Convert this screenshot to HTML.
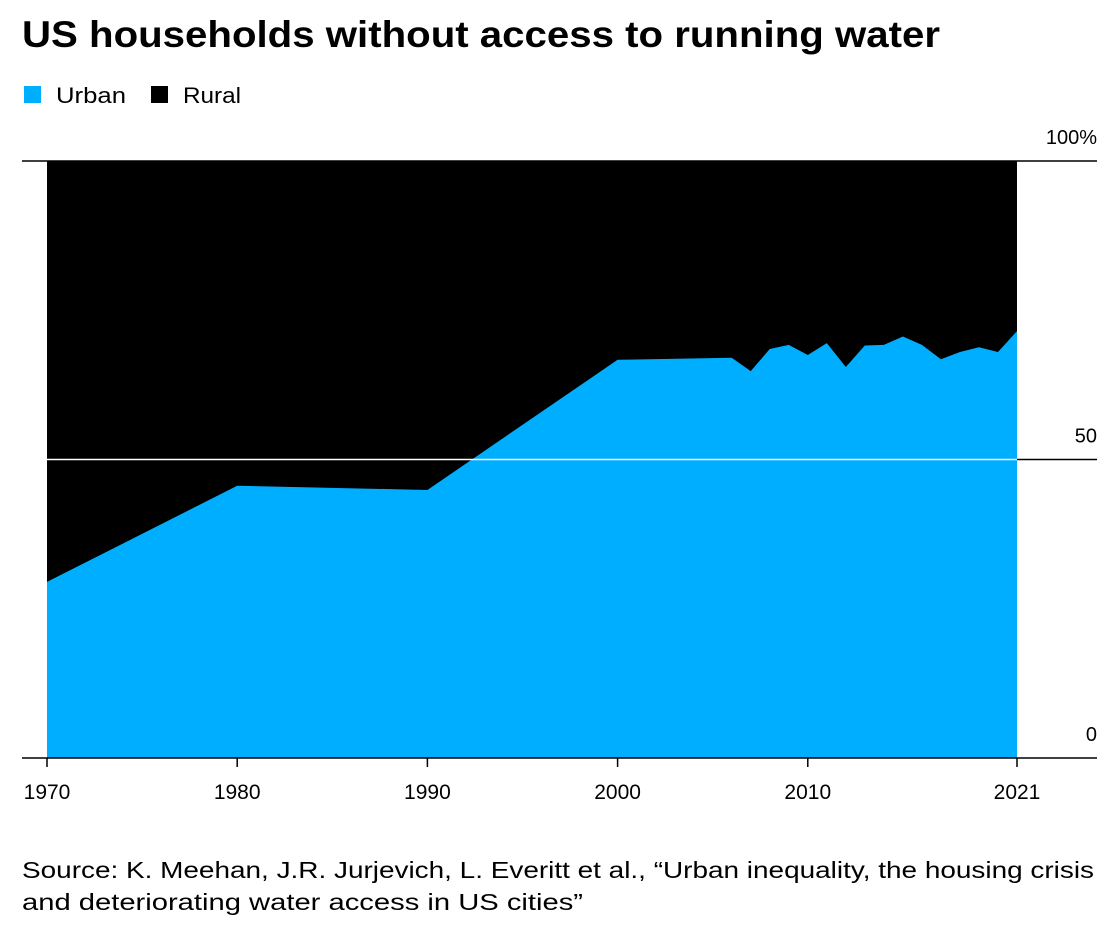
<!DOCTYPE html>
<html><head><meta charset="utf-8"><style>
body{margin:0;background:#fff;font-family:"Liberation Sans",Arial,sans-serif;}
#wrap{position:relative;width:1116px;height:930px;}
</style></head><body><div id="wrap">
<svg id="chart" width="1116" height="930">
<text x="22" y="47" font-size="37" font-weight="bold" fill="#000" textLength="918" lengthAdjust="spacingAndGlyphs">US households without access to running water</text>
<g>
<rect x="24" y="86" width="17" height="17" fill="#00aeff"/>
<text x="56" y="103" font-size="22" textLength="70" lengthAdjust="spacingAndGlyphs">Urban</text>
<rect x="151" y="86" width="17" height="17" fill="#000"/>
<text x="183" y="103" font-size="22" textLength="58" lengthAdjust="spacingAndGlyphs">Rural</text>
</g>
<g id="plot"></g>
<text x="22" y="878" font-size="23" textLength="1072" lengthAdjust="spacingAndGlyphs">Source: K. Meehan, J.R. Jurjevich, L. Everitt et al., “Urban inequality, the housing crisis</text>
<text x="22" y="910" font-size="23" textLength="561" lengthAdjust="spacingAndGlyphs">and deteriorating water access in US cities”</text>
</svg>
<script>
const years=[1970,1980,1990,2000,2006,2007,2008,2009,2010,2011,2012,2013,2014,2015,2016,2017,2018,2019,2020,2021];
const urbanShare=[29.5,45.6,44.9,66.7,67.05,64.8,68.5,69.2,67.5,69.5,65.5,69.1,69.2,70.6,69.2,66.8,68.0,68.8,68.0,71.5];
const yTicks=[0,50,100];
const yTickLabels=["0","50","100%"];
const xTicks=[1970,1980,1990,2000,2010,2021];
const NS="http://www.w3.org/2000/svg";
const x=v=>47+(v-1970)*(1017-47)/51;
const y=v=>758-v*5.97;
const g=document.getElementById('plot');
function mk(t,a){const e=document.createElementNS(NS,t);for(const k in a)e.setAttribute(k,a[k]);g.appendChild(e);return e;}
let r=mk('rect',{x:x(1970),y:y(100),width:x(2021)-x(1970),height:y(0)-y(100),fill:'#000'});


let d='M'+x(years[0])+','+y(0);
years.forEach((yr,i)=>{d+=' L'+x(yr)+','+y(urbanShare[i]);});
d+=' L'+x(years[years.length-1])+','+y(0)+' Z';
let p=mk('path',{d:d,fill:'#00aeff'});


yTicks.forEach((t,i)=>{
 let c=(t===50)?'#fff':'#000';
 let l=mk('line',{x1:22,x2:x(2021),y1:y(t),y2:y(t),stroke:c,'stroke-width':1.5});
 
 
 let l2=mk('line',{x1:x(2021),x2:1097,y1:y(t),y2:y(t),stroke:'#000','stroke-width':1.5});
 
 
 let tx=mk('text',{x:1097,y:y(t)-17,'font-size':20,'text-anchor':'end'});
 tx.textContent=yTickLabels[i];
 
 
});
xTicks.forEach(t=>{
 let l=mk('line',{x1:x(t),x2:x(t),y1:y(0),y2:y(0)+9,stroke:'#000','stroke-width':1.5});
 
 
 let tx=mk('text',{x:x(t),y:799,'font-size':21,'text-anchor':'middle'});
 tx.textContent=t;
 
 
});
</script>
</div></body></html>
